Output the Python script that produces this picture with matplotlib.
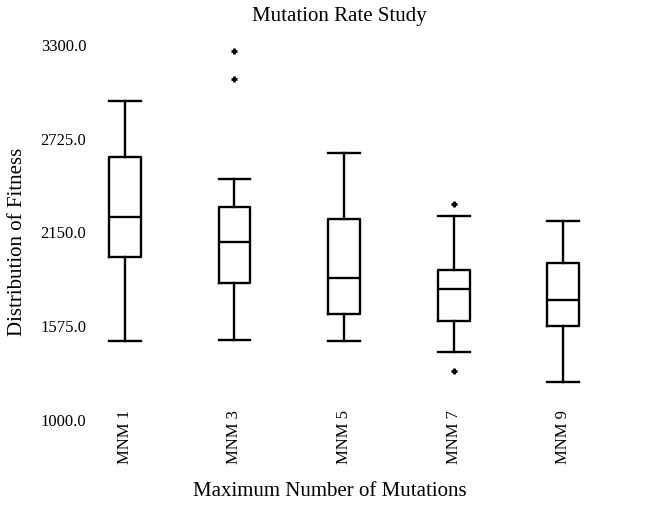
import matplotlib.pyplot as plt

plt.rcParams['font.family'] = ['Liberation Serif', 'DejaVu Serif']

categories = ["MNM 1", "MNM 3", "MNM 5", "MNM 7", "MNM 9"]
whisker_low = [1478, 1485, 1478, 1411, 1227]
q1 = [1994, 1834, 1644, 1601, 1570]
median = [2239, 2086, 1865, 1797, 1730]
q3 = [2607, 2300, 2227, 1914, 1957]
whisker_high = [2950, 2472, 2631, 2245, 2214]
outliers = [[], [3085, 3257], [], [2319, 1294], []]
yticks = [1000.0, 1575.0, 2150.0, 2725.0, 3300.0]


def main():
    stats = []
    for i, name in enumerate(categories):
        stats.append({
            "label": name,
            "whislo": whisker_low[i],
            "q1": q1[i],
            "med": median[i],
            "q3": q3[i],
            "whishi": whisker_high[i],
            "fliers": outliers[i],
        })

    fig = plt.figure(figsize=(6.63, 5.06), dpi=100)
    ax = fig.add_axes([92 / 663, 86 / 506, (618 - 92) / 663, 375 / 506])

    line = dict(color="black", linewidth=1.7)
    ax.bxp(stats, positions=range(1, 6), widths=0.29, capwidths=0.29,
           boxprops=line, whiskerprops=line, capprops=line, medianprops=line,
           flierprops=dict(marker="+", markersize=5, markeredgewidth=2,
                           markeredgecolor="black"))

    ax.set_xlim(0.7, 5.5)
    ax.set_ylim(1000, 3300)
    ax.set_yticks(yticks)
    ax.set_yticklabels([f"{t:.1f}" for t in yticks], fontsize=12)
    ax.set_xticklabels(categories, rotation=90, fontsize=12)
    ax.tick_params(axis="y", length=0, pad=4)
    ax.tick_params(axis="x", length=0, pad=-7)
    for s in ax.spines.values():
        s.set_visible(False)

    # title and axis labels placed to match the reference layout
    ax.set_title("Mutation Rate Study", fontsize=15, pad=17, x=(339 - 92) / 526)
    ax.set_xlabel("Maximum Number of Mutations", fontsize=15)
    ax.xaxis.set_label_coords((330 - 92) / 526, (506 - 482 - 86) / 375)
    ax.set_ylabel("Distribution of Fitness", fontsize=15)
    ax.yaxis.set_label_coords((27 - 92) / 526, (506 - 242 - 86) / 375)

    fig.savefig("out.png", dpi=100)


if __name__ == "__main__":
    main()
